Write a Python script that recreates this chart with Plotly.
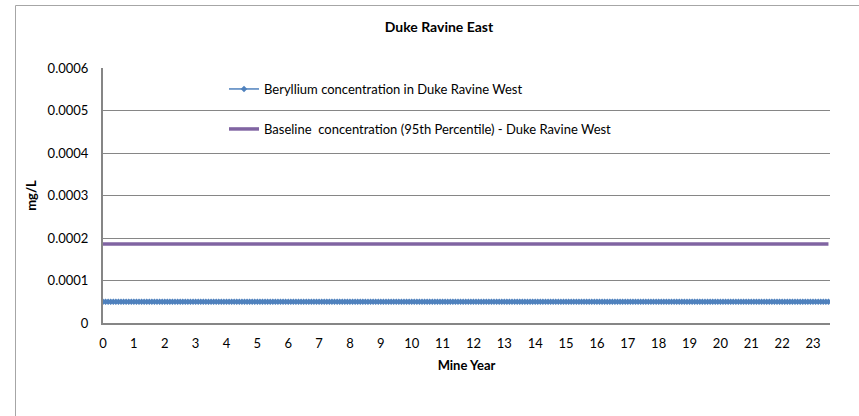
import plotly.graph_objects as go

# Data
month_index = list(range(0, 283))              # monthly samples, year 0 to 23.5
mine_year = [m / 12 for m in month_index]
beryllium_value = 0.00005                      # mg/L, flat over the whole period
baseline_value = 0.000186                      # mg/L, 95th percentile
beryllium = [beryllium_value for _ in month_index]
baseline = [baseline_value for _ in month_index]
x_ticks = list(range(0, 24))
y_ticks = [0, 0.0001, 0.0002, 0.0003, 0.0004, 0.0005, 0.0006]
y_tick_text = ["0", "0.0001", "0.0002", "0.0003", "0.0004", "0.0005", "0.0006"]

FONT = "Lato, 'Open Sans', sans-serif"
W, H = 859, 416
L, R, T, B = 103, 29, 68, 93
pw, ph = W - L - R, H - T - B

fig = go.Figure()
fig.add_trace(go.Scatter(
    x=mine_year, y=beryllium, mode="lines+markers",
    line=dict(color="#4F81BD", width=1.5),
    marker=dict(symbol="diamond", size=5, color="#4F81BD"),
    name="Beryllium concentration in Duke Ravine West",
    legend="legend", showlegend=True,
))
fig.add_trace(go.Scatter(
    x=mine_year, y=baseline, mode="lines",
    line=dict(color="#8064A2", width=3.5),
    name="Baseline  concentration (95th Percentile) - Duke Ravine West",
    legend="legend2", showlegend=True,
))

def px_x(x):
    return (x - L) / pw

def px_y(y):
    return (H - B - y) / ph

fig.update_layout(
    width=W, height=H, showlegend=True,
    margin=dict(l=L, r=R, t=T, b=B, autoexpand=False),
    paper_bgcolor="white", plot_bgcolor="white",
    font=dict(family=FONT, size=13, color="#000000"),
    title=dict(text="<b>Duke Ravine East</b>", x=px_x(439), xref="paper",
               xanchor="center", y=1 - 27 / H, yanchor="middle",
               font=dict(size=14, family=FONT, color="#000000")),
    xaxis=dict(range=[0, 23.55], tickmode="array", tickvals=x_ticks,
               showgrid=False, zeroline=False,
               showline=True, linecolor="#868686", linewidth=2,
               ticks="", ticklabelstandoff=7,
               tickfont=dict(size=13, family=FONT),
               title=dict(text="<b>Mine Year</b>", standoff=11,
                          font=dict(size=13, family=FONT))),
    yaxis=dict(range=[0, 0.0006], tickmode="array", tickvals=y_ticks,
               ticktext=y_tick_text,
               showgrid=True, gridcolor="#868686", gridwidth=1,
               zeroline=False,
               showline=True, linecolor="#868686", linewidth=2,
               ticks="", ticklabelstandoff=10,
               tickfont=dict(size=13, family=FONT),
               title=dict(text="<b>mg/L</b>", standoff=8,
                          font=dict(size=13, family=FONT))),
    legend=dict(x=px_x(224), y=px_y(89), xanchor="left", yanchor="middle",
                bgcolor="rgba(0,0,0,0)", font=dict(size=13, family=FONT),
                itemwidth=30),
    legend2=dict(x=px_x(224), y=px_y(129), xanchor="left", yanchor="middle",
                 bgcolor="rgba(0,0,0,0)", font=dict(size=13, family=FONT),
                 itemwidth=30),
    shapes=[dict(type="rect", xref="paper", yref="paper",
                 x0=px_x(15.5), x1=px_x(W + 20), y0=px_y(H + 20), y1=px_y(5.5),
                 line=dict(color="#A6A6A6", width=1), layer="below")],
)

fig.write_html("out.html", config={"displayModeBar": False},
               post_script="document.body.style.margin='0';")
